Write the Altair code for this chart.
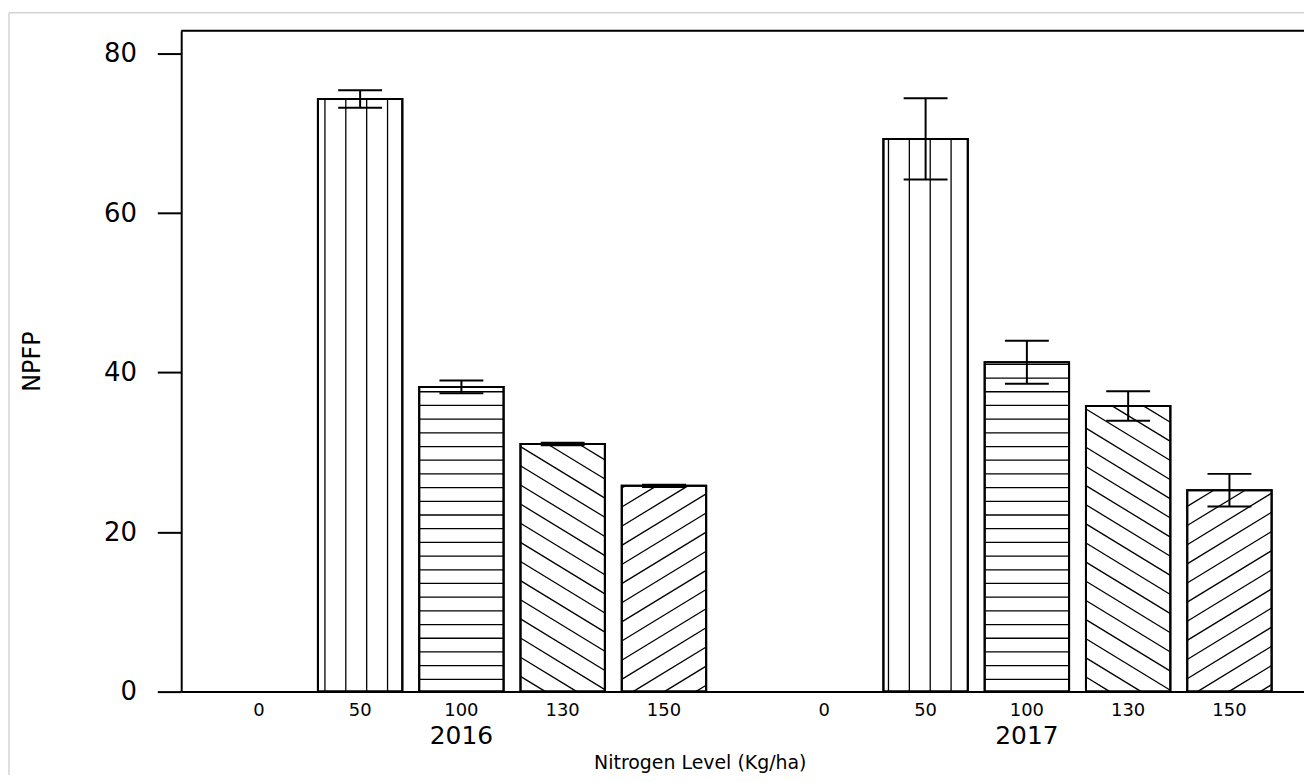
import math
import altair as alt
import pandas as pd

# ---------------- data ----------------
years = ["2016", "2017"]
levels = ["0", "50", "100", "130", "150"]
npfp_2016 = [0.0, 74.3, 38.2, 31.05, 25.8]
npfp_2017 = [0.0, 69.3, 41.3, 35.8, 25.25]
se_2016 = [0.0, 1.1, 0.8, 0.15, 0.15]
se_2017 = [0.0, 5.1, 2.7, 1.85, 2.05]
y_ticks = [0, 20, 40, 60, 80]

# ---------------- layout / style ----------------
W, H = 1128, 664
STEP, GROUP, HALF, CAP = 1.2, 6.7, 0.5, 0.26
XMIN = -0.92
XMAX = XMIN + W / 84.79
YMAX = 82.87
FONT = "DejaVu Sans"
XTITLE = "Nitrogen Level (Kg/ha)"
YTITLE = "NPFP"
hatch_style = {"0": None, "50": "vertical", "100": "horizontal", "130": "back", "150": "forward"}
# hatch geometry in data units
V0, VGAP = 0.783, 0.2473
H0, HGAP = 1.54, 1.717
SLOPE, DGAP = 6.46, 2.40
CB0, CF0 = 65.14, -69.44

rows = []
for yi, (yr, vals, ses) in enumerate(zip(years, [npfp_2016, npfp_2017], [se_2016, se_2017])):
    for li, (lv, v, s) in enumerate(zip(levels, vals, ses)):
        pos = yi * GROUP + li * STEP
        rows.append(dict(year=yr, level=lv, value=v, se=s, pos=pos,
                         left=pos - HALF, right=pos + HALF,
                         lo=v - s, hi=v + s, capl=pos - CAP, capr=pos + CAP))
bars = pd.DataFrame(rows)

# hatch segments derived from the bars
seg = []
for r in rows:
    st = hatch_style[r["level"]]
    l, rt, h = r["left"], r["right"], r["value"]
    if st is None or h <= 0:
        continue
    if st == "vertical":
        k0 = math.ceil((l - V0) / VGAP)
        k1 = math.floor((rt - V0) / VGAP)
        for k in range(k0, k1 + 1):
            xk = V0 + k * VGAP
            if l + 0.01 < xk < rt - 0.01:
                seg.append(dict(x=xk, x2=xk, y=0.0, y2=h))
    elif st == "horizontal":
        k = 0
        while H0 + k * HGAP < h - 0.05:
            yk = H0 + k * HGAP
            seg.append(dict(x=l, x2=rt, y=yk, y2=yk))
            k += 1
    elif st == "back":
        k0 = math.floor((SLOPE * l - CB0) / DGAP) - 1
        k1 = math.ceil((h + SLOPE * rt - CB0) / DGAP) + 1
        for k in range(k0, k1 + 1):
            c = CB0 + k * DGAP
            xa = max(l, (c - h) / SLOPE)
            xb = min(rt, c / SLOPE)
            if xb - xa > 0.01:
                seg.append(dict(x=xa, x2=xb, y=c - SLOPE * xa, y2=c - SLOPE * xb))
    elif st == "forward":
        k0 = math.floor((-SLOPE * rt - CF0) / DGAP) - 1
        k1 = math.ceil((h - SLOPE * l - CF0) / DGAP) + 1
        for k in range(k0, k1 + 1):
            c = CF0 + k * DGAP
            xa = max(l, -c / SLOPE)
            xb = min(rt, (h - c) / SLOPE)
            if xb - xa > 0.01:
                seg.append(dict(x=xa, x2=xb, y=c + SLOPE * xa, y2=c + SLOPE * xb))
hatch = pd.DataFrame(seg)

year_df = pd.DataFrame({"year": years,
                        "center": [i * GROUP + 2 * STEP for i in range(len(years))]})

xscale = alt.Scale(domain=[XMIN, XMAX], nice=False, zero=False)
yscale = alt.Scale(domain=[0, YMAX], nice=False, zero=False)


def X(field):
    return alt.X(field, scale=xscale, title=XTITLE)


def Y(field):
    return alt.Y(field, scale=yscale, title=YTITLE)


base = alt.Chart(bars)

bar_fill = base.transform_filter("datum.value > 0").mark_rect(
    fill="white", stroke="black", strokeWidth=2
).encode(
    x=alt.X("left:Q", scale=xscale, title=XTITLE, axis=alt.Axis(
        ticks=False, labels=False, grid=False,
        domain=True, domainColor="black", domainWidth=2,
        titleX=521, titleY=71, titleBaseline="middle", titleAlign="center",
        titleFont=FONT, titleFontSize=19, titleFontWeight="normal", titleColor="black")),
    x2="right:Q",
    y=alt.Y("value:Q", scale=yscale, title=YTITLE, axis=alt.Axis(
        values=y_ticks, grid=False, tickSize=24, tickWidth=2,
        tickColor="black", domainColor="black", domainWidth=2,
        labelFont=FONT, labelFontSize=26, labelColor="black", labelPadding=21,
        titleX=-149, titleY=H / 2, titleAngle=270, titleBaseline="middle",
        titleAlign="center", titleFont=FONT, titleFontSize=24,
        titleFontWeight="normal", titleColor="black")),
    y2=alt.datum(0),
)

hatch_layer = alt.Chart(hatch).mark_rule(color="black", strokeWidth=1.3).encode(
    x=X("x:Q"), x2="x2:Q", y=Y("y:Q"), y2="y2:Q",
)

bar_outline = base.transform_filter("datum.value > 0").mark_rect(
    fill=None, stroke="black", strokeWidth=2
).encode(
    x=X("left:Q"), x2="right:Q", y=Y("value:Q"), y2=alt.datum(0),
)

errs = base.transform_filter("datum.se > 0")
err_v = errs.mark_rule(color="black", strokeWidth=2).encode(
    x=X("pos:Q"), y=Y("lo:Q"), y2="hi:Q",
)
err_hi = errs.mark_rule(color="black", strokeWidth=2).encode(
    x=X("capl:Q"), x2="capr:Q", y=Y("hi:Q"),
)
err_lo = errs.mark_rule(color="black", strokeWidth=2).encode(
    x=X("capl:Q"), x2="capr:Q", y=Y("lo:Q"),
)

level_text = base.mark_text(font=FONT, fontSize=18, color="black", baseline="middle").encode(
    x=X("pos:Q"),
    y=alt.value(H + 20),
    text="level:N",
)

year_text = alt.Chart(year_df).mark_text(font=FONT, fontSize=25, color="black", baseline="middle").encode(
    x=X("center:Q"),
    y=alt.value(H + 45),
    text="year:N",
)

one = pd.DataFrame({"a": [0]})
top_line = alt.Chart(one).mark_rule(color="black", strokeWidth=2).encode(
    x=alt.value(0), x2=alt.value(W), y=alt.value(0))
frame_top = alt.Chart(one).mark_rule(color="#d4d4d4", strokeWidth=1.5).encode(
    x=alt.value(-173), x2=alt.value(W + 4), y=alt.value(-18))
frame_left = alt.Chart(one).mark_rule(color="#d4d4d4", strokeWidth=1.5).encode(
    x=alt.value(-173), y=alt.value(-18), y2=alt.value(H + 90))

chart = alt.layer(
    bar_fill, hatch_layer, bar_outline, err_v, err_hi, err_lo,
    level_text, year_text, top_line, frame_top, frame_left
).properties(
    width=W, height=H,
    padding={"left": 174, "top": 21, "right": 0, "bottom": 82},
    autosize=alt.AutoSizeParams(type="none"),
).configure_view(stroke=None).configure(background="white")

chart.save("out.html", embed_options={"renderer": "svg", "actions": False})
